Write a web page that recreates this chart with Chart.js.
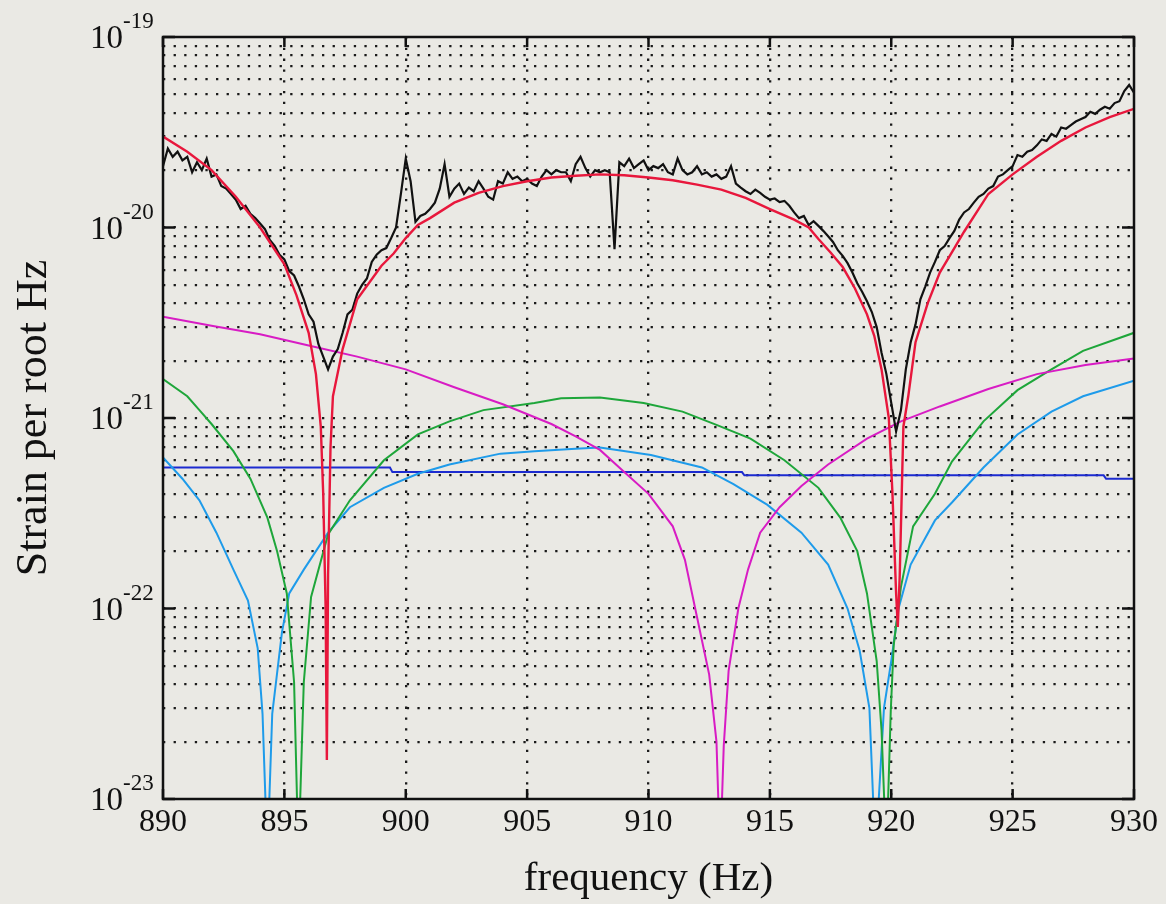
<!DOCTYPE html>
<html>
<head>
<meta charset="utf-8">
<script src="https://cdn.jsdelivr.net/npm/chart.js@4.4.1/dist/chart.umd.min.js"></script>
<style>
  html, body { margin: 0; padding: 0; background: #eae9e4; }
  #wrap { width: 1166px; height: 904px; }
</style>
</head>
<body>
<div id="wrap"><canvas id="myChart" width="1166" height="904"></canvas></div>
<script>
// axis structure
const xTicks = [890, 895, 900, 905, 910, 915, 920, 925, 930];
const yDecades = [1e-23, 1e-22, 1e-21, 1e-20, 1e-19];
const yExponents = ["-23", "-22", "-21", "-20", "-19"];
const yMantissas = [1, 2, 3, 4, 5, 6, 7, 8, 9];

// measured spectrum (black)
const measured = [
  [890.0,2.1e-20],[890.2,2.6e-20],[890.4,2.35e-20],[890.6,2.5e-20],[890.8,2.25e-20],
  [891.0,2.35e-20],[891.2,1.95e-20],[891.4,2.2e-20],[891.6,2.0e-20],[891.8,2.3e-20],
  [892.0,1.85e-20],[892.2,1.9e-20],[892.4,1.65e-20],[892.6,1.6e-20],[892.8,1.5e-20],
  [893.0,1.4e-20],[893.2,1.25e-20],[893.4,1.3e-20],[893.6,1.18e-20],[893.8,1.12e-20],
  [894.0,1.05e-20],[894.2,9.8e-21],[894.4,8.6e-21],[894.6,8.0e-21],[894.8,7.2e-21],
  [895.0,6.8e-21],[895.2,5.9e-21],[895.4,5.6e-21],[895.6,4.9e-21],[895.8,4.2e-21],
  [896.0,3.5e-21],[896.2,3.2e-21],[896.4,2.45e-21],[896.6,2.1e-21],[896.8,1.8e-21],
  [897.0,2.1e-21],[897.2,2.3e-21],[897.4,2.8e-21],[897.6,3.5e-21],[897.8,3.7e-21],
  [898.0,4.5e-21],[898.2,5.0e-21],[898.4,5.4e-21],[898.6,6.6e-21],[898.8,7.2e-21],
  [899.0,7.6e-21],[899.2,7.8e-21],[899.4,8.8e-21],[899.6,1.0e-20],[899.8,1.5e-20],
  [900.0,2.3e-20],[900.2,1.75e-20],[900.4,1.07e-20],[900.6,1.15e-20],[900.8,1.18e-20],
  [901.0,1.25e-20],[901.2,1.35e-20],[901.4,1.6e-20],[901.6,2.15e-20],[901.8,1.45e-20],
  [902.0,1.6e-20],[902.2,1.7e-20],[902.4,1.5e-20],[902.6,1.62e-20],[902.8,1.55e-20],
  [903.0,1.75e-20],[903.2,1.6e-20],[903.4,1.45e-20],[903.6,1.4e-20],[903.8,1.75e-20],
  [904.0,1.7e-20],[904.2,1.95e-20],[904.4,1.8e-20],[904.6,1.85e-20],[904.8,1.75e-20],
  [905.0,1.8e-20],[905.2,1.7e-20],[905.4,1.65e-20],[905.6,1.85e-20],[905.8,2.0e-20],
  [906.0,1.9e-20],[906.2,2.0e-20],[906.4,1.95e-20],[906.6,1.95e-20],[906.8,1.75e-20],
  [907.0,2.15e-20],[907.2,2.35e-20],[907.4,2.05e-20],[907.6,1.85e-20],[907.8,2.0e-20],
  [908.0,1.95e-20],[908.2,2.0e-20],[908.4,1.95e-20],[908.6,7.7e-21],[908.8,2.2e-20],
  [909.0,2.1e-20],[909.2,2.3e-20],[909.4,2.05e-20],[909.6,2.15e-20],[909.8,2.25e-20],
  [910.0,2.0e-20],[910.2,2.1e-20],[910.4,2.05e-20],[910.6,2.15e-20],[910.8,1.95e-20],
  [911.0,1.9e-20],[911.2,2.3e-20],[911.4,2.0e-20],[911.6,1.9e-20],[911.8,1.95e-20],
  [912.0,2.1e-20],[912.2,1.9e-20],[912.4,1.95e-20],[912.6,1.85e-20],[912.8,1.9e-20],
  [913.0,1.8e-20],[913.2,1.85e-20],[913.4,2.1e-20],[913.6,1.7e-20],[913.8,1.62e-20],
  [914.0,1.55e-20],[914.2,1.5e-20],[914.4,1.58e-20],[914.6,1.52e-20],[914.8,1.45e-20],
  [915.0,1.4e-20],[915.2,1.42e-20],[915.4,1.36e-20],[915.6,1.38e-20],[915.8,1.3e-20],
  [916.0,1.2e-20],[916.2,1.12e-20],[916.4,1.15e-20],[916.6,1.03e-20],[916.8,1.08e-20],
  [917.0,1.02e-20],[917.2,9.6e-21],[917.4,9.0e-21],[917.6,8.4e-21],[917.8,7.6e-21],
  [918.0,7.1e-21],[918.2,6.5e-21],[918.4,5.8e-21],[918.6,5.1e-21],[918.8,4.6e-21],
  [919.0,4.1e-21],[919.2,3.6e-21],[919.4,3.0e-21],[919.6,2.2e-21],[919.8,1.7e-21],
  [920.0,1.2e-21],[920.2,8.5e-22],[920.4,1.1e-21],[920.6,1.8e-21],[920.8,2.5e-21],
  [921.0,3.1e-21],[921.2,4.2e-21],[921.4,4.9e-21],[921.6,5.8e-21],[921.8,6.6e-21],
  [922.0,7.6e-21],[922.2,8.0e-21],[922.4,8.8e-21],[922.6,9.6e-21],[922.8,1.1e-20],
  [923.0,1.2e-20],[923.2,1.25e-20],[923.4,1.35e-20],[923.6,1.45e-20],[923.8,1.5e-20],
  [924.0,1.6e-20],[924.2,1.65e-20],[924.4,1.85e-20],[924.6,1.9e-20],[924.8,2.0e-20],
  [925.0,2.1e-20],[925.2,2.4e-20],[925.4,2.35e-20],[925.6,2.5e-20],[925.8,2.55e-20],
  [926.0,2.7e-20],[926.2,2.9e-20],[926.4,2.85e-20],[926.6,3.1e-20],[926.8,3.0e-20],
  [927.0,3.35e-20],[927.2,3.3e-20],[927.4,3.45e-20],[927.6,3.6e-20],[927.8,3.7e-20],
  [928.0,3.8e-20],[928.2,4.05e-20],[928.4,3.95e-20],[928.6,4.15e-20],[928.8,4.3e-20],
  [929.0,4.2e-20],[929.2,4.5e-20],[929.4,4.6e-20],[929.6,5.2e-20],[929.8,5.6e-20],
  [930.0,5.1e-20]
];

// model total (red)
const modelTotal = [
  [890,3.0e-20],[891,2.5e-20],[892,2.0e-20],[893,1.45e-20],[894,1.0e-20],
  [895,6.4e-21],[895.5,4.4e-21],[896,2.8e-21],[896.3,1.7e-21],[896.5,9e-22],
  [896.6,4e-22],[896.7,1e-22],[896.75,1.6e-23],[896.8,1.5e-22],[896.9,7e-22],
  [897.0,1.3e-21],[897.4,2.3e-21],[898,4.2e-21],[899,6.3e-21],[899.5,7.3e-21],
  [900,8.8e-21],[900.5,1.03e-20],[901,1.12e-20],[902,1.35e-20],[903,1.52e-20],
  [904,1.65e-20],[905,1.75e-20],[906,1.83e-20],[907,1.87e-20],[908,1.9e-20],
  [909,1.88e-20],[910,1.83e-20],[911,1.77e-20],[912,1.68e-20],[913,1.58e-20],
  [914,1.43e-20],[915,1.25e-20],[916,1.1e-20],[916.6,1.0e-20],[917,8.7e-21],
  [917.5,7.4e-21],[918,6.2e-21],[918.5,4.8e-21],[919,3.5e-21],[919.3,2.7e-21],
  [919.6,1.8e-21],[919.9,1.0e-21],[920.05,4e-22],[920.2,1.2e-22],[920.27,8e-23],
  [920.35,1.5e-22],[920.45,5e-22],[920.5,9e-22],[920.7,1.3e-21],[921.0,2.5e-21],
  [921.5,4.0e-21],[922,5.8e-21],[922.6,7.8e-21],[923,9.5e-21],[924,1.5e-20],
  [925,1.9e-20],[926,2.35e-20],[927,2.85e-20],[928,3.35e-20],[929,3.8e-20],
  [930,4.2e-20]
];

// magenta component
const compMagenta = [
  [890,3.4e-21],[892,3.05e-21],[894,2.75e-21],[896,2.4e-21],[898,2.1e-21],
  [900,1.8e-21],[902,1.45e-21],[904,1.18e-21],[906,9.3e-22],[907,8e-22],
  [908,6.8e-22],[909,5.2e-22],[910,4.0e-22],[911,2.7e-22],[911.5,1.8e-22],
  [912,9e-23],[912.5,4.5e-23],[912.8,2e-23],[912.95,5e-24],[913.1,1.9e-23],
  [913.3,4.7e-23],[913.7,1e-22],[914.1,1.6e-22],[914.6,2.5e-22],[915.4,3.4e-22],
  [916.3,4.4e-22],[917.4,5.7e-22],[919,7.8e-22],[920.4,9.6e-22],[922,1.15e-21],
  [924,1.42e-21],[926,1.7e-21],[928,1.9e-21],[930,2.05e-21]
];

// green component
const compGreen = [
  [890,1.6e-21],[891,1.3e-21],[891.5,1.1e-21],[892,9.3e-22],[892.9,6.7e-22],
  [893.6,4.8e-22],[894.3,3e-22],[894.7,2e-22],[895.1,1.2e-22],[895.4,4.1e-23],
  [895.58,5e-24],[895.8,4.1e-23],[896.1,1.15e-22],[896.8,2.45e-22],[897.7,3.7e-22],
  [899.1,6e-22],[900.5,8.2e-22],[901.8,9.6e-22],[903.2,1.1e-21],[905.3,1.2e-21],
  [906.4,1.27e-21],[908,1.28e-21],[909.8,1.2e-21],[911.4,1.08e-21],[912.8,9.2e-22],
  [914.2,7.8e-22],[915.6,6e-22],[917,4.3e-22],[917.9,3e-22],[918.6,2e-22],
  [919,1.2e-22],[919.4,5.3e-23],[919.6,2.3e-23],[919.8,5e-24],[919.98,2.9e-23],
  [920.1,6.4e-23],[920.4,1.3e-22],[920.9,2.7e-22],[921.8,4e-22],[922.5,5.9e-22],
  [923.8,9.6e-22],[925.2,1.4e-21],[926.6,1.8e-21],[927.9,2.25e-21],[930,2.8e-21]
];

// light blue component
const compCyan = [
  [890,6.2e-22],[890.8,4.8e-22],[891.5,3.7e-22],[892.2,2.5e-22],[892.9,1.6e-22],
  [893.5,1.1e-22],[893.9,6.2e-23],[894.1,2.8e-23],[894.3,5e-24],[894.5,2.8e-23],
  [894.9,7.5e-23],[895.2,1.2e-22],[895.8,1.6e-22],[896.8,2.5e-22],[897.7,3.4e-22],
  [899.1,4.3e-22],[900.5,5.1e-22],[901.8,5.7e-22],[903.9,6.5e-22],[905.3,6.7e-22],
  [907,6.9e-22],[908,7e-22],[910.1,6.4e-22],[912.2,5.5e-22],[913.5,4.5e-22],
  [914.9,3.5e-22],[916.3,2.5e-22],[917.4,1.7e-22],[918.2,1e-22],[918.7,6e-23],
  [919.1,3e-23],[919.35,5e-24],[919.7,3e-23],[920,5.3e-23],[920.3,1e-22],
  [920.8,1.7e-22],[921.8,2.9e-22],[922.5,3.6e-22],[923.8,5.5e-22],[925.2,8.2e-22],
  [926.6,1.08e-21],[927.9,1.3e-21],[930,1.57e-21]
];

// dark blue component (nearly flat, stepped)
const compBlue = [
  [890,5.5e-22],[899.35,5.5e-22],[899.45,5.2e-22],[913.85,5.2e-22],[913.95,5.0e-22],
  [928.75,5.0e-22],[928.85,4.8e-22],[930,4.8e-22]
];

const toPoints = (rows) => rows.map(([x, y]) => ({ x, y }));

const yGridValues = [];
yDecades.forEach((d) => {
  yMantissas.forEach((m) => {
    const v = m * d;
    if (v <= 1.0001e-19) yGridValues.push(v);
  });
});

const serif = "'Liberation Serif', 'Times New Roman', serif";

const framePlugin = {
  id: "frame",
  beforeDraw(chart) {
    const { ctx } = chart;
    ctx.save();
    ctx.fillStyle = "#eae9e4";
    ctx.fillRect(0, 0, chart.width, chart.height);
    ctx.restore();
  },
  afterDatasetsDraw(chart) {
    const { ctx, chartArea: a, scales: { x, y } } = chart;
    ctx.save();
    ctx.strokeStyle = "#111";
    ctx.lineWidth = 2.5;
    ctx.strokeRect(a.left, a.top, a.right - a.left, a.bottom - a.top);
    ctx.beginPath();
    xTicks.forEach((v) => {
      const px = x.getPixelForValue(v);
      ctx.moveTo(px, a.bottom);
      ctx.lineTo(px, a.bottom - 10);
      ctx.moveTo(px, a.top);
      ctx.lineTo(px, a.top + 10);
    });
    yDecades.forEach((v) => {
      const py = y.getPixelForValue(v);
      ctx.moveTo(a.left, py);
      ctx.lineTo(a.left + 12, py);
      ctx.moveTo(a.right, py);
      ctx.lineTo(a.right - 12, py);
    });
    ctx.stroke();

    // y tick labels: 10 with superscript exponent
    ctx.fillStyle = "#111";
    yDecades.forEach((v, i) => {
      const py = y.getPixelForValue(v);
      ctx.font = "33px " + serif;
      ctx.textAlign = "right";
      ctx.textBaseline = "alphabetic";
      ctx.fillText("10", 123, py + 11);
      ctx.font = "23px " + serif;
      ctx.textAlign = "left";
      ctx.fillText(yExponents[i], 123, py - 9);
    });
    ctx.restore();
  }
};

const line = (data, color, width) => ({
  data: toPoints(data),
  borderColor: color,
  borderWidth: width,
  pointRadius: 0,
  tension: 0,
  fill: false
});

const ctx = document.getElementById("myChart");
const chart = new Chart(ctx, {
  type: "line",
  data: {
    datasets: [
      line(modelTotal, "#e8173c", 2.4),
      line(measured, "#111111", 2.2),
      line(compMagenta, "#d81cc4", 2),
      line(compGreen, "#1ea63a", 2),
      line(compCyan, "#1e9bea", 2),
      line(compBlue, "#1c2bd0", 2),
    ],
  },
  plugins: [framePlugin],
  options: {
    responsive: false,
    animation: false,
    events: [],
    layout: {
      padding: { top: 37, right: 32, left: 0, bottom: 0 },
    },
    plugins: {
      legend: { display: false },
      tooltip: { enabled: false },
    },
    scales: {
      x: {
        type: "linear",
        min: 890,
        max: 930,
        afterFit: (scale) => { scale.height = 105; },
        afterBuildTicks: (scale) => { scale.ticks = xTicks.map((value) => ({ value })); },
        ticks: {
          font: { family: serif, size: 32 },
          color: "#111",
          padding: 4,
          maxRotation: 0,
        },
        grid: {
          color: (c) => (c.tick && (c.tick.value === 890 || c.tick.value === 930)) ? "rgba(0,0,0,0)" : "#1a1a1a",
          lineWidth: 2.3,
          drawTicks: false,
        },
        border: { display: false, dash: [2.3, 8.5] },
        title: {
          display: true,
          text: "frequency (Hz)",
          font: { family: serif, size: 41 },
          color: "#111",
          padding: { top: 0, bottom: 0 },
        },
      },
      y: {
        type: "logarithmic",
        min: 1e-23,
        max: 1e-19,
        afterFit: (scale) => { scale.width = 163; },
        afterBuildTicks: (scale) => { scale.ticks = yGridValues.map((value) => ({ value })); },
        ticks: { display: false },
        grid: {
          color: (c) => (c.tick && (c.tick.value <= 1.0001e-23 || c.tick.value >= 0.9999e-19)) ? "rgba(0,0,0,0)" : "#1a1a1a",
          lineWidth: 2.3,
          drawTicks: false,
        },
        border: { display: false, dash: [2.3, 8.3] },
        title: {
          display: true,
          text: "Strain per root Hz",
          font: { family: serif, size: 44 },
          color: "#111",
          padding: { top: 8, bottom: 0 },
        },
      },
    },
  },
});
</script>
</body>
</html>
